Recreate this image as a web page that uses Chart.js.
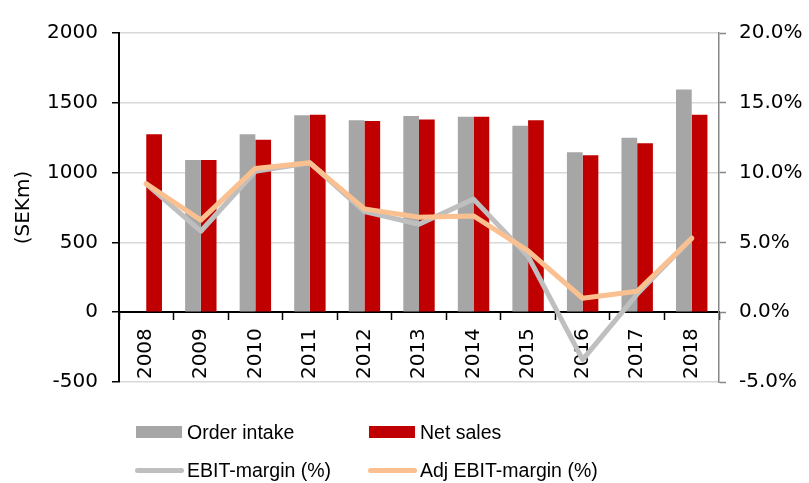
<!DOCTYPE html>
<html>
<head>
<meta charset="utf-8">
<script src="https://cdn.jsdelivr.net/npm/chart.js@4.4.0/dist/chart.umd.min.js"></script>
<style>
  html, body { margin: 0; padding: 0; background: #fff; }
  #wrap { position: relative; width: 809px; height: 483px; overflow: hidden; }
  #chart { position: absolute; left: 0; top: 0; }
  .leg-text { position: absolute; font-family: "Liberation Sans", Arial, sans-serif; font-size: 19.5px; line-height: 20px; color: #000; white-space: nowrap; }
  .leg-sw { position: absolute; }
</style>
</head>
<body>
<div id="wrap">
  <canvas id="chart" width="809" height="483"></canvas>
  <div id="legend"></div>
</div>
<script>
const years = ['2008', '2009', '2010', '2011', '2012', '2013', '2014', '2015', '2016', '2017', '2018'];
const orderIntake = [null, 1090, 1275, 1410, 1375, 1405, 1400, 1335, 1145, 1250, 1595];
const netSales = [1275, 1090, 1235, 1415, 1370, 1380, 1400, 1375, 1125, 1210, 1415];
const ebitMargin = [9.2, 5.8, 10.1, 10.7, 7.2, 6.3, 8.1, 4.0, -3.4, 1.3, 5.3];
const adjEbitMargin = [9.2, 6.6, 10.3, 10.7, 7.4, 6.8, 6.9, 4.4, 1.0, 1.5, 5.3];

const grayBar = '#a6a6a6';
const redBar = '#c00000';
const grayLine = '#bfbfbf';
const orangeLine = '#fac090';

// the axis text in the picture is wide, DejaVu Sans fits its metrics better than Arial
const axisFont = { family: '"DejaVu Sans", sans-serif', size: 20 };

const chart = new Chart(document.getElementById('chart').getContext('2d'), {
  data: {
    labels: years,
    datasets: [
      { type: 'bar', label: 'Order intake', data: orderIntake, backgroundColor: grayBar, yAxisID: 'y', order: 2,
        categoryPercentage: 0.576, barPercentage: 1 },
      { type: 'bar', label: 'Net sales', data: netSales, backgroundColor: redBar, yAxisID: 'y', order: 3,
        categoryPercentage: 0.576, barPercentage: 1 },
      { type: 'line', label: 'EBIT-margin (%)', data: ebitMargin, borderColor: grayLine, borderWidth: 5,
        pointRadius: 0, tension: 0, borderJoinStyle: 'round', borderCapStyle: 'round', yAxisID: 'y1', order: 1 },
      { type: 'line', label: 'Adj EBIT-margin (%)', data: adjEbitMargin, borderColor: orangeLine, borderWidth: 5,
        pointRadius: 0, tension: 0, borderJoinStyle: 'round', borderCapStyle: 'round', yAxisID: 'y1', order: 0 },
    ],
  },
  options: {
    responsive: false,
    animation: false,
    layout: { padding: { top: 33, bottom: 101, left: 0, right: 0 } },
    plugins: { legend: { display: false }, tooltip: { enabled: false } },
    scales: {
      x: {
        position: { y: 0 },
        z: 1,
        grid: { drawOnChartArea: false, offset: true, tickLength: 7, tickColor: '#000', tickWidth: 1.5 },
        border: { color: '#000', width: 2 },
        ticks: { color: '#000', font: axisFont, minRotation: 90, maxRotation: 90, autoSkip: false, padding: 9 },
      },
      y: {
        position: 'left',
        min: -500,
        max: 2000,
        ticks: { stepSize: 500, color: '#000', font: axisFont, padding: 14, callback: (v) => String(v) },
        grid: {
          color: (c) => (c.tick && c.tick.value === 0 ? 'rgba(0,0,0,0)' : '#d9d9d9'),
          lineWidth: 1.5, tickLength: 7, tickColor: '#000', tickWidth: 1.5,
        },
        border: { color: '#000', width: 2 },
        title: { display: true, text: '(SEKm)', color: '#000', font: axisFont, padding: { top: 12, bottom: 0 } },
        afterFit(s) { s.width = 119; },
      },
      y1: {
        position: 'right',
        min: -5,
        max: 20,
        ticks: { stepSize: 5, color: '#000', font: axisFont, padding: 13, callback: (v) => v.toFixed(1) + '%' },
        grid: { drawOnChartArea: false, tickLength: 7, tickColor: '#868686', tickWidth: 1.5 },
        border: { color: '#868686', width: 1.5 },
        afterFit(s) { s.width = 90; },
      },
    },
  },
});

// legend: two rows, two columns, like the original
const legendBox = document.getElementById('legend');
const cols = [136, 369];
const rows = [432, 470];
chart.data.datasets.forEach((ds, i) => {
  const x = cols[i % 2];
  const y = rows[Math.floor(i / 2)];
  const sw = document.createElement('div');
  sw.className = 'leg-sw';
  if (ds.type === 'bar') {
    sw.style.cssText = `left:${x}px;top:${y - 6}px;width:46px;height:12px;background:${ds.backgroundColor};`;
  } else {
    sw.style.cssText = `left:${x - 1}px;top:${y - 2.5}px;width:49px;height:5px;border-radius:3px;background:${ds.borderColor};`;
  }
  legendBox.appendChild(sw);
  const t = document.createElement('div');
  t.className = 'leg-text';
  t.style.left = (x + 51) + 'px';
  t.style.top = (y - 10) + 'px';
  t.textContent = ds.label;
  legendBox.appendChild(t);
});
</script>
</body>
</html>
